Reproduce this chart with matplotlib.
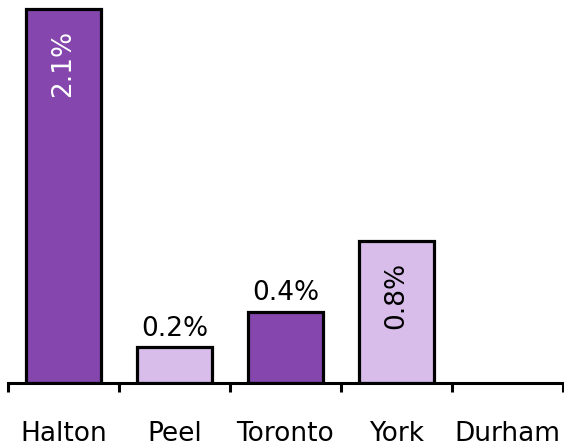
import numpy as np
import matplotlib
matplotlib.use("Agg")
import matplotlib.pyplot as plt

regions = ["Halton", "Peel", "Toronto", "York", "Durham"]
values = [2.1, 0.2, 0.4, 0.8, 0.0]
labels = ["2.1%", "0.2%", "0.4%", "0.8%", ""]
inside = [True, False, False, True, False]

dark = "#8547ad"
light = "#d8bdea"
colors = [dark, light, dark, light, light]

plt.rcParams['font.family'] = ['DejaVu Sans']

fig = plt.figure(figsize=(5.64, 4.48), dpi=100)
ax = fig.add_axes([8 / 564, 65 / 448, 555 / 564, 383 / 448])

x = np.arange(len(regions))
for i, v in enumerate(values):
    if v <= 0:
        continue
    ax.bar(x[i], v, width=0.67, color=colors[i], edgecolor="black", linewidth=2.3, zorder=2)
    if inside[i]:
        tc = "white" if colors[i] == dark else "black"
        ax.annotate(labels[i], (x[i], v), xytext=(0, -15), textcoords="offset points",
                    ha="center", va="top", rotation=90, color=tc, fontsize=19)
    else:
        ax.annotate(labels[i], (x[i], v), xytext=(0, 4), textcoords="offset points",
                    ha="center", va="bottom", color="black", fontsize=19)

ax.set_xlim(-0.5, len(regions) - 0.5)
ax.set_ylim(0, 383 / 178)

for s in ["top", "right", "left"]:
    ax.spines[s].set_visible(False)
ax.spines["bottom"].set_linewidth(2.2)
ax.spines["bottom"].set_zorder(3)
ax.set_yticks([])

ax.set_xticks(x)
ax.set_xticklabels(regions, fontsize=19)
ax.tick_params(axis="x", which="major", length=0, pad=27)
ax.set_xticks(np.arange(-0.5, len(regions)), minor=True)
ax.tick_params(axis="x", which="minor", length=6.5, width=2.2, direction="out")

fig.savefig("out.png", dpi=100)
